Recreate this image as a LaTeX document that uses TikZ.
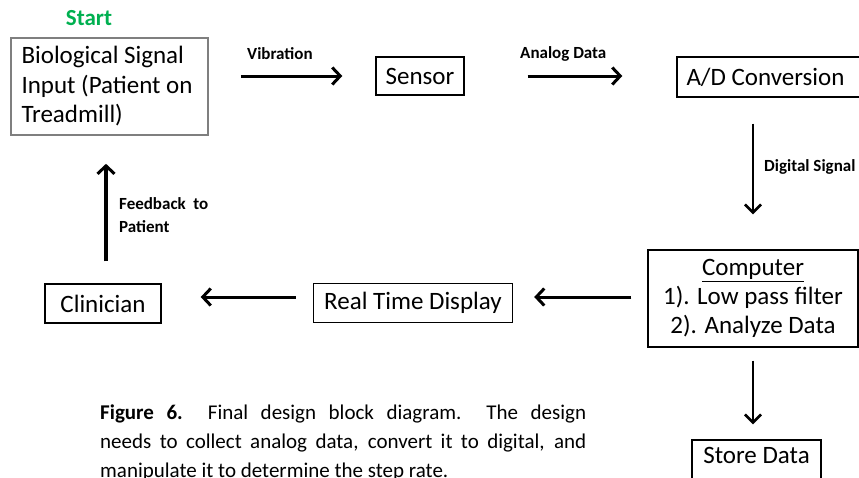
\documentclass[tikz,border=0pt]{standalone}
\usepackage{fontspec}
\setmainfont{Carlito}
\usetikzlibrary{arrows.meta}
\definecolor{startgreen}{RGB}{0,176,80}
\definecolor{boxgray}{RGB}{127,127,127}
\tikzset{
  blk/.style={draw=black, line width=1.4pt, inner sep=0pt, font=\fontsize{25}{29}\selectfont},
  lbl/.style={inner sep=0pt, font=\fontsize{17}{23}\selectfont\bfseries, align=left},
  flow/.style={line width=3pt, -{Straight Barb[length=8pt,width=17pt,line width=3pt]}},
  vflow/.style={line width=2.6pt, -{Straight Barb[length=8pt,width=16pt,line width=2.6pt]}},
}
\begin{document}
\begin{tikzpicture}[x=1pt,y=-1pt]
\useasboundingbox (0,0) rectangle (859,477);
% start label
\node[inner sep=0pt, text=startgreen, font=\fontsize{23}{26}\selectfont\bfseries] (start) at (89,18) {Start};
% boxes
\node[blk, draw=boxgray, line width=1.6pt, minimum width=197pt, minimum height=97pt, align=left] (bio) at (109.5,86.5)
  {\parbox{176pt}{\fontsize{25}{29.5}\selectfont Biological Signal\\Input (Patient on\\Treadmill)}};
\node[blk, minimum width=88pt, minimum height=38pt] (sensor) at (420,76) {Sensor};
\node[blk, minimum width=186pt, minimum height=40pt] (ad) at (770,77) {A/D Conversion\hspace*{9pt}};
\node[blk, minimum width=210pt, minimum height=97pt, align=center] (comp) at (753,298.5)
  {\underline{Computer}\\1). Low pass filter\\2). Analyze Data};
\node[blk, minimum width=199pt, minimum height=39pt] (rtd) at (413,303) {Real Time Display};
\node[blk, minimum width=116pt, minimum height=39pt] (clin) at (103,303.5) {Clinician};
\node[blk, minimum width=129pt, minimum height=50pt, text depth=20pt] (store) at (756.5,465) {Store Data};
% connectors
\draw[flow, shorten <=32pt, shorten >=33pt] (bio.east |- sensor.west) -- (sensor.west);
\draw[flow, shorten <=63pt, shorten >=54pt] (sensor.east) -- (sensor.east -| ad.west);
\draw[vflow, shorten <=26pt, shorten >=35pt] (ad.south -| comp.north) -- (comp.north);
\draw[flow, shorten <=16pt, shorten >=21pt] ([yshift=6pt]rtd.east -| comp.west) -- ([yshift=6pt]rtd.east);
\draw[flow, shorten <=17pt, shorten >=39pt] ([yshift=6pt]rtd.west) -- ([yshift=6pt]rtd.west -| clin.east);
\draw[flow, line width=3.4pt, shorten <=22pt, shorten >=28pt] ([xshift=3pt]clin.north) -- ([xshift=3pt]clin.north |- bio.south);
\draw[vflow, shorten <=13pt, shorten >=15pt] (comp.south) -- (comp.south |- store.north);
% connector labels
\node[lbl, anchor=west] (l1) at (247,54) {Vibration};
\node[lbl, anchor=west] (l2) at (520,54) {Analog Data};
\node[lbl, anchor=west] (l3) at (764,167) {Digital Signal};
\node[lbl, anchor=north west] (l4) at (119,197) {Feedback\ \ to\\Patient};
% caption
\node[inner sep=0pt, anchor=base west, text width=486pt, align=justify,
  font=\fontsize{21}{29}\selectfont] (cap) at (100,419)
  {\hyphenpenalty=10000 \textbf{Figure 6.}\ \ Final design block diagram.\ \ The design\linebreak
   needs to collect analog data, convert it to digital, and\linebreak
   manipulate it to determine the step rate.};
\end{tikzpicture}
\end{document}
